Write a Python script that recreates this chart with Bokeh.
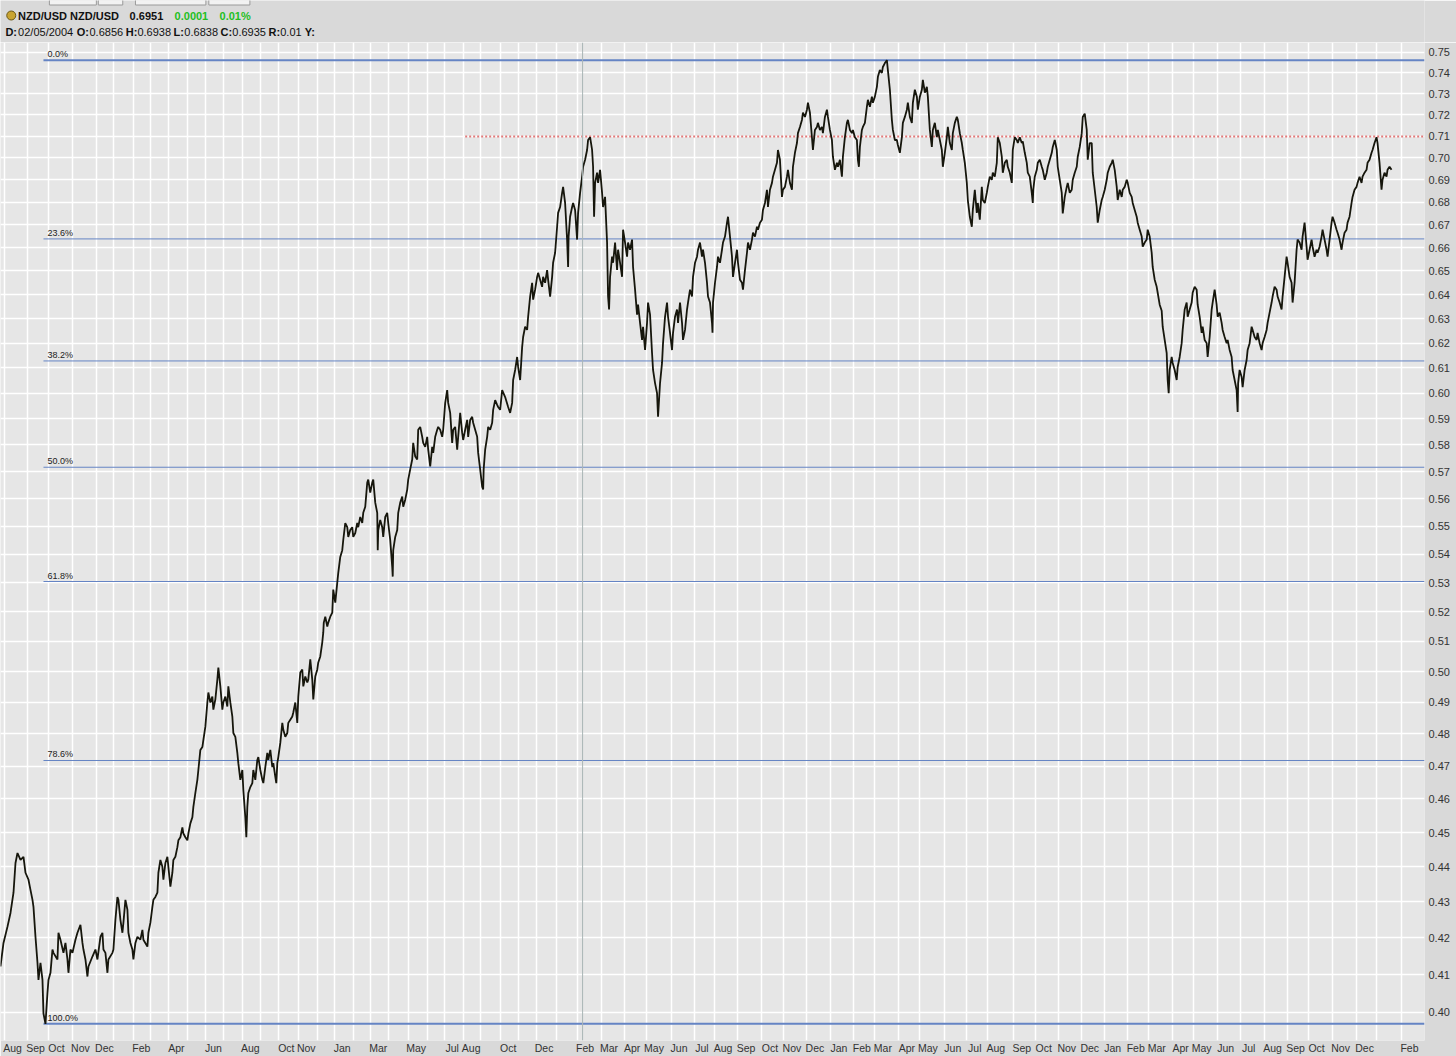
from bokeh.plotting import figure
from bokeh.layouts import column
from bokeh.models import Range1d, FixedTicker, PrintfTickFormatter, Span, Label, ColumnDataSource
from bokeh.embed import file_html
from bokeh.resources import INLINE

# ---------------- data ----------------
# (bar index, close)
pts_2000_2002 = [
    (0,0.4122),(3,0.4186),(7,0.4231),(10,0.4269),(13,0.4326),(15,0.4411),(17,0.444),(20,0.442),(23,0.4429),
    (25,0.4383),(28,0.4363),(30,0.4334),(32,0.4306),(33,0.4286),(35,0.4203),(37,0.4132),(38,0.4086),(40,0.4132),
    (42,0.4086),(43,0.3997),(45,0.397),(47,0.4051),(48,0.4086),(50,0.4105),(52,0.4168),(53,0.4159),(57,0.4141),
    (58,0.4214),(60,0.4195),(63,0.4159),(65,0.4186),(67,0.4141),(68,0.4105),(70,0.4168),(72,0.4159),(75,0.4195),
    (77,0.4214),(80,0.4236),(82,0.4186),(83,0.4168),(85,0.4141),(87,0.4095),(88,0.4122),(92,0.4149),(95,0.4168),
    (97,0.4141),(100,0.4203),(102,0.4214),(103,0.4168),(105,0.4159),(107,0.4105),(108,0.4141),(112,0.4159),
    (113,0.4168),(115,0.425),(117,0.4314),(118,0.4306),(120,0.425),(122,0.4214),(123,0.4242),(125,0.4306),
    (127,0.4278),(128,0.4214),(130,0.4186),(132,0.4168),(133,0.4141),(135,0.4186),(137,0.4203),(140,0.4195),
    (142,0.4222),(143,0.4195),(147,0.4176),(148,0.4214),(150,0.4242),(152,0.4286),(153,0.4306),(155,0.4314),
    (157,0.4326),(158,0.4383),(160,0.442),(162,0.44),(163,0.4363),(165,0.4411),(167,0.4429),(168,0.44),
    (170,0.4343),(172,0.4383),(173,0.442),(175,0.4429),(177,0.4457),(178,0.4477),(180,0.4486),(182,0.4515),
    (183,0.4497),(185,0.4486),(187,0.4477),(188,0.4497),(190,0.4527),(192,0.4545),(193,0.4576),(195,0.4618),
    (197,0.4658),(198,0.4688),(200,0.475),(202,0.4759),(203,0.4781),(205,0.4823),(207,0.49),(208,0.4932),
    (210,0.49),(212,0.4919),(213,0.4877),(215,0.491),(217,0.4974),(218,0.5013),(220,0.4952),(222,0.4877),
    (223,0.49),(225,0.4919),(227,0.4887),(228,0.4952),(230,0.49),(232,0.4855),(233,0.4803),(235,0.4791),
    (237,0.4741),(238,0.4709),(240,0.4658),(242,0.4688),(243,0.4627),(245,0.4545),(246,0.4486),(247,0.4576),
    (248,0.4618),(250,0.4636),(252,0.4648),(253,0.4688),(255,0.4658),(257,0.4719),(258,0.4728),
]
pts_2002_2003 = [
    (260,0.4688),(262,0.4658),(263,0.4648),(265,0.4697),(267,0.4741),(268,0.4719),(270,0.475),(272,0.4697),
    (273,0.4709),(275,0.4667),(276,0.4648),(277,0.4709),(278,0.4728),(280,0.4772),(282,0.4835),(283,0.4813),
    (285,0.4791),(287,0.4803),(288,0.4835),(290,0.4845),(292,0.4855),(293,0.4868),(295,0.49),(297,0.4835),
    (298,0.4919),(300,0.4997),(302,0.5007),(303,0.4952),(305,0.4984),(307,0.4965),(308,0.4974),(310,0.504),
    (312,0.4974),(313,0.491),(315,0.4984),(317,0.5007),(318,0.503),(320,0.505),(322,0.5097),(323,0.513),
    (323.5,0.5163),(325,0.5183),(327,0.515),(328,0.5163),(330,0.5183),(332,0.5197),(333,0.5276),(335,0.5231),
    (337,0.53),(338,0.5334),(340,0.539),(342,0.5414),(343,0.545),(345,0.5511),(347,0.5496),(348,0.5461),
    (350,0.5486),(352,0.5496),(353,0.5461),(355,0.5475),(357,0.5511),(358,0.5496),(360,0.5533),(362,0.5511),
    (363,0.5548),(365,0.557),(367,0.5659),(368,0.567),(370,0.5622),(372,0.5659),(373,0.567),(375,0.5585),
    (377,0.5548),(377.5,0.5414),(378,0.5485),(380,0.5522),(382,0.5496),(383,0.5461),(385,0.5533),(387,0.5548),
    (388,0.5511),(390,0.545),(392,0.5355),(392.5,0.5321),(393,0.5414),(395,0.5461),(397,0.5486),(398,0.5548),
    (400,0.5585),(402,0.5607),(403,0.557),(405,0.5596),(407,0.5633),(408,0.567),(410,0.5708),(412,0.5745),
    (413,0.5808),(415,0.5756),(417,0.5745),(418,0.5858),(420,0.5869),(422,0.5831),(423,0.5808),(425,0.5793),
    (427,0.5831),(428,0.5782),(430,0.5719),(432,0.5793),(433,0.577),(435,0.5831),(437,0.5858),(438,0.5869),
    (440,0.5858),(442,0.5831),(443,0.5858),(445,0.5962),(447,0.6012),(448,0.5962),(450,0.5923),(452,0.5808),
    (453,0.5858),(455,0.5869),(457,0.5782),(458,0.5831),(460,0.5923),(462,0.5846),(463,0.5819),(465,0.5858),
    (467,0.5896),(468,0.5831),(470,0.5896),(472,0.5908),(473,0.5885),(475,0.5858),(477,0.5831),(478,0.577),
    (480,0.5708),(482,0.5644),(483,0.5633),(483.5,0.5708),(485,0.5782),(487,0.5831),(488,0.5869),(490,0.5858),
    (492,0.5885),(493,0.5935),(495,0.5973),(497,0.5954),(498,0.5946),
]
pts_2003_2005 = [
    (500,0.5935),(502,0.6012),(505,0.5985),(508,0.5946),(510,0.5923),(512,0.5962),(513,0.6052),(515,0.6092),
    (517,0.6144),(518,0.6104),(520,0.6052),(522,0.6184),(523,0.6225),(525,0.6267),(527,0.6254),(528,0.6308),
    (530,0.6392),(532,0.645),(533,0.6379),(535,0.6421),(537,0.6475),(538,0.6492),(540,0.6463),(542,0.6433),
    (543,0.6475),(545,0.645),(547,0.6504),(548,0.6463),(550,0.6392),(552,0.6475),(553,0.6535),(555,0.6578),
    (557,0.6691),(558,0.6752),(560,0.6778),(562,0.6841),(563,0.6868),(565,0.6796),(567,0.6635),(568,0.6517),
    (568.5,0.6648),(570,0.6735),(572,0.6778),(573,0.6796),(575,0.6765),(577,0.6635),(578,0.6752),(580,0.6841),
    (582,0.6914),(583,0.6959),(585,0.6991),(587,0.7036),(588,0.7082),(590,0.7095),(592,0.7036),(593,0.6959),
    (594,0.6735),(595,0.6886),(597,0.6932),(598,0.6886),(600,0.6945),(602,0.6841),(603,0.6778),(605,0.6823),
    (607,0.6622),(608,0.6392),(609,0.6338),(610,0.6475),(612,0.6561),(613,0.6535),(615,0.6622),(617,0.6504),
    (618,0.6591),(620,0.6535),(622,0.6475),(623,0.6678),(625,0.6622),(627,0.6561),(628,0.6622),(630,0.6591),
    (632,0.6635),(633,0.6517),(635,0.6421),(637,0.6317),(638,0.6358),(640,0.6283),(642,0.6213),(643,0.6267),
    (645,0.6172),(647,0.6283),(648,0.6367),(650,0.6317),(652,0.616),(653,0.6092),(655,0.604),(657,0.60),
    (658,0.5908),(660,0.604),(662,0.612),(663,0.62),(665,0.6308),(667,0.6367),(668,0.6308),(670,0.6242),
    (672,0.6172),(673,0.6242),(675,0.6308),(677,0.6338),(678,0.6283),(680,0.6367),(682,0.6283),(683,0.6213),
    (685,0.6254),(687,0.6338),(688,0.6367),(690,0.6421),(692,0.6392),(693,0.6475),(695,0.6535),(697,0.6561),
    (698,0.6591),(700,0.6622),(702,0.6561),(703,0.6591),(705,0.6535),(707,0.645),(708,0.6392),(710,0.6367),
    (712,0.6283),(712.5,0.6242),(713,0.6367),(715,0.645),(717,0.6517),(718,0.6561),(720,0.6535),(722,0.6591),
    (723,0.6622),(725,0.6648),(727,0.6709),(728,0.6735),(730,0.6648),(732,0.6561),(733,0.6475),(735,0.6535),
    (737,0.6591),(738,0.6535),(740,0.6463),(742,0.645),(743,0.6421),(745,0.6504),(747,0.6578),(748,0.6622),
    (750,0.6591),(752,0.6635),(753,0.6665),(755,0.6648),(757,0.6691),(758,0.6678),(760,0.6709),(762,0.6722),
    (763,0.6765),(765,0.6796),(767,0.6855),(768,0.6778),(770,0.6855),(772,0.6886),(773,0.6914),(775,0.6945),
    (777,0.6977),(778,0.7036),(780,0.6991),(782,0.6823),(783,0.6855),(785,0.6868),(787,0.6914),(788,0.6945),
    (790,0.6886),(792,0.6855),(793,0.6959),(795,0.7023),(797,0.7068),(798,0.7114),(800,0.7143),(802,0.7176),
    (803,0.721),(805,0.719),(807,0.7224),(808,0.7257),(810,0.721),(812,0.7095),(813,0.7036),(815,0.7129),
    (817,0.7143),(818,0.7162),(820,0.7129),(822,0.7143),(823,0.7114),(825,0.719),(827,0.7224),(828,0.719),
    (830,0.7129),(832,0.7082),(833,0.7005),(835,0.6945),(837,0.6977),(838,0.6959),(840,0.6991),(842,0.6914),
    (843,0.7005),(845,0.7095),(847,0.7162),(848,0.7176),(850,0.7129),(852,0.7114),(853,0.7129),(855,0.7095),
    (857,0.7082),(858,0.6991),(859,0.6959),(860,0.705),(862,0.7129),(863,0.7143),(865,0.7162),(867,0.7238),
    (868,0.7271),(870,0.7238),(872,0.7286),(873,0.7257),(875,0.7286),(877,0.7333),(878,0.7381),(880,0.7414),
    (882,0.74),(883,0.7429),(885,0.7448),(887,0.7462),(888,0.7414),(890,0.7319),(892,0.7176),(893,0.7129),
    (895,0.7082),(897,0.7082),(898,0.7059),
]
pts_2005_2007 = [
    (900,0.7023),(902,0.7095),(903,0.7162),(905,0.719),(907,0.7224),(908,0.7257),(910,0.719),(912,0.7162),
    (913,0.7257),(915,0.7319),(917,0.7286),(918,0.7224),(920,0.7286),(922,0.7319),(923,0.7367),(925,0.7305),
    (927,0.7333),(928,0.7286),(930,0.7129),(932,0.705),(933,0.7129),(935,0.7162),(937,0.7095),(938,0.7129),
    (940,0.7082),(942,0.7036),(943,0.6959),(945,0.7023),(947,0.7095),(948,0.7143),(950,0.7068),(952,0.7036),
    (953,0.7114),(955,0.7162),(957,0.719),(958,0.7176),(960,0.7114),(962,0.7068),(963,0.7036),(965,0.6977),
    (967,0.6886),(968,0.6809),(970,0.6735),(972,0.6691),(973,0.6765),(975,0.6855),(977,0.6752),(978,0.6796),
    (980,0.6722),(982,0.6868),(983,0.6809),(985,0.6796),(987,0.6841),(988,0.6868),(990,0.6914),(992,0.69),
    (993,0.6932),(995,0.6914),(997,0.6977),(998,0.7095),(1000,0.7068),(1002,0.7005),(1003,0.6932),(1005,0.6977),
    (1007,0.6991),(1008,0.6959),(1010,0.6932),(1012,0.6886),(1013,0.7036),(1015,0.7095),(1017,0.7082),
    (1018,0.7068),(1020,0.7095),(1022,0.7068),(1023,0.7075),(1025,0.7023),(1027,0.6977),(1028,0.6932),
    (1030,0.6914),(1032,0.6841),(1033,0.6796),(1033.5,0.6855),(1035,0.6914),(1037,0.6945),(1038,0.6977),
    (1040,0.6991),(1042,0.6959),(1043,0.6945),(1045,0.69),(1047,0.6932),(1048,0.6959),(1050,0.6991),
    (1052,0.7023),(1053,0.705),(1055,0.7082),(1057,0.7036),(1058,0.6959),(1060,0.69),(1062,0.6841),(1063,0.675),
    (1065,0.6823),(1067,0.6868),(1068,0.6886),(1070,0.6841),(1072,0.6855),(1073,0.69),(1075,0.6932),
    (1077,0.6959),(1078,0.7005),(1080,0.705),(1082,0.7114),(1083,0.719),(1085,0.7205),(1087,0.7129),
    (1088,0.6991),(1090,0.7068),(1092,0.7068),(1093,0.6932),(1095,0.6855),(1097,0.6778),(1098,0.6709),
    (1100,0.6765),(1102,0.6809),(1103,0.6823),(1105,0.6855),(1107,0.69),(1108,0.6932),(1110,0.6959),
    (1112,0.6977),(1113,0.6991),(1115,0.6945),(1117,0.6868),(1118,0.6809),(1120,0.6855),(1122,0.6823),
    (1123,0.6855),(1125,0.6868),(1127,0.69),(1128,0.6886),(1130,0.6841),(1132,0.6823),(1133,0.6796),
    (1135,0.6765),(1137,0.6735),(1138,0.6709),(1140,0.6678),(1142,0.6648),(1143,0.6604),(1145,0.6622),
    (1147,0.6635),(1148,0.6678),(1150,0.6648),(1152,0.6578),(1153,0.6517),(1155,0.6463),(1157,0.6433),
    (1158,0.6408),(1160,0.6358),(1162,0.6333),(1163,0.6267),(1165,0.6213),(1167,0.616),(1167.5,0.6104),
    (1168,0.6052),(1169,0.60),(1170,0.6092),(1172,0.6144),(1173,0.612),(1175,0.6092),(1177,0.6052),
    (1178,0.6104),(1180,0.6144),(1182,0.62),(1183,0.6254),(1185,0.6338),(1187,0.6367),(1188,0.6308),
    (1190,0.6338),(1192,0.6367),(1193,0.6408),(1195,0.6433),(1197,0.6421),(1198,0.6358),(1200,0.6308),
    (1202,0.6242),(1203,0.6267),(1205,0.6213),(1207,0.62),(1208,0.6144),(1210,0.6225),(1212,0.6338),
    (1213,0.6367),(1215,0.6421),(1217,0.6358),(1218,0.6308),(1220,0.6325),(1222,0.6283),(1223,0.6254),
    (1225,0.6225),(1227,0.62),(1228,0.6213),(1230,0.6172),(1232,0.6144),(1233,0.6092),(1235,0.6052),
    (1237,0.6012),(1238,0.5927),(1238.5,0.604),(1240,0.6092),(1242,0.6064),(1243,0.6024),(1245,0.6092),
    (1247,0.6132),(1248,0.6172),(1250,0.62),(1252,0.6267),(1253,0.6254),(1255,0.6225),(1257,0.6213),
    (1258,0.6242),(1260,0.62),(1262,0.6172),(1263,0.62),(1265,0.6225),(1267,0.6254),(1268,0.6283),
    (1270,0.6325),(1272,0.6367),(1273,0.6392),(1275,0.6433),(1277,0.6421),(1278,0.6392),(1280,0.6367),
    (1282,0.6338),(1283,0.6392),(1285,0.6475),(1287,0.6561),(1288,0.6535),(1290,0.6475),(1292,0.645),
    (1293,0.6367),(1295,0.645),(1297,0.6591),(1298,0.6635),(1300,0.6622),(1302,0.6591),(1303,0.6648),
    (1305,0.6709),(1307,0.6604),(1308,0.6548),(1310,0.6591),(1312,0.6635),(1313,0.6604),(1315,0.6561),
    (1317,0.6591),(1318,0.6578),(1320,0.6604),(1322,0.6648),(1323,0.6678),(1325,0.6635),(1327,0.6591),
    (1328,0.6561),(1330,0.6635),(1332,0.6709),(1333,0.6735),(1335,0.6709),(1337,0.6678),(1338,0.6665),
    (1340,0.6635),(1342,0.6591),(1343,0.6622),(1345,0.6665),(1347,0.6678),(1348,0.6709),(1350,0.6735),
    (1352,0.6796),(1353,0.6823),(1355,0.6855),(1357,0.6868),(1358,0.6886),(1360,0.6914),(1362,0.6886),
    (1363,0.6914),(1365,0.6932),(1367,0.6945),(1368,0.6977),(1370,0.6991),(1372,0.7023),(1373,0.7036),
    (1375,0.7068),(1377,0.7095),(1378,0.7068),(1380,0.6977),(1382,0.6855),(1383,0.69),(1385,0.6932),
    (1387,0.6914),(1388,0.6945),(1390,0.6959),(1392,0.6945),
]

# month grid (bar index) and labels
month_grid = [4,27,48,72,96,113,133,150,168,187,205,223,242,260,278,298,317,334,353,370,388,408,427,444,463,
              480,500,518,536,556,577,601,624,646,671,694,715,738,762,784,807,831,854,875,899,920,945,967,988,
              1014,1036,1059,1082,1105,1128,1149,1173,1194,1218,1241,1265,1288,1309,1333,1357,1377,1402]
month_lbl = ["Aug","Sep","Oct","Nov","Dec","","Feb","","Apr","","Jun","","Aug","","Oct","Nov","","Jan","","Mar",
             "","May","","Jul","Aug","","Oct","","Dec","","Feb","Mar","Apr","May","Jun","Jul","Aug","Sep","Oct",
             "Nov","Dec","Jan","Feb","Mar","Apr","May","Jun","Jul","Aug","Sep","Oct","Nov","Dec","Jan","Feb",
             "Mar","Apr","May","Jun","Jul","Aug","Sep","Oct","Nov","Dec","","Feb"]

price_ticks = [round(0.40 + 0.01 * i, 2) for i in range(36)]

fib_high = 0.7462
fib_low = 0.3970
fib_ratios = [0.0, 0.236, 0.382, 0.5, 0.618, 0.786, 1.0]
fib_names = ["0.0%", "23.6%", "38.2%", "50.0%", "61.8%", "78.6%", "100.0%"]
fib_start_bar = 43

resistance_level = 0.7098
resistance_start_bar = 465
cursor_bar = 582.5

header_title = "NZD/USD NZD/USD"
header_last = "0.6951"
header_change = "0.0001"
header_pct = "0.01%"
header_fields = [("D:", "02/05/2004"), ("O:", "0.6856"), ("H:", "0.6938"), ("L:", "0.6838"),
                 ("C:", "0.6935"), ("R:", "0.01"), ("Y:", "")]

FONT = "Liberation Sans"
BAND = "#d9d9d9"

# ---------------- header strip ----------------
TOTAL_W = 1456
HEAD_H = 42
h = figure(width=TOTAL_W, height=HEAD_H, x_range=Range1d(0, TOTAL_W), y_range=Range1d(0, HEAD_H),
           output_backend="svg", toolbar_location=None, min_border=0,
           background_fill_color=BAND, border_fill_color=BAND, outline_line_color=None)
h.axis.visible = False
h.grid.visible = False
# bottoms of the toolbar buttons peeking in at the top
h.quad(left=[50, 100, 138, 213], right=[98, 125, 210, 255], bottom=[37.5, 37.5, 37.5, 37.5],
       top=[44, 44, 44, 44], fill_color="#f2f2f2", line_color="#9a9a9a", line_width=1)
h.scatter(x=[11], y=[27], size=9, fill_color="#c9a431", line_color="#6a5716", line_width=1)

def hl(x, y, text, bold=False, color="#111111", size="11px"):
    h.add_layout(Label(x=x, y=y, text=text, text_font=FONT, text_font_size=size,
                       text_font_style="bold" if bold else "normal",
                       text_color=color, text_baseline="middle", text_align="left"))

Y1, Y2 = 27, 11
hl(18, Y1, header_title, bold=True)
hl(132, Y1, header_last, bold=True)
hl(178, Y1, header_change, bold=True, color="#1fbf1f")
hl(224, Y1, header_pct, bold=True, color="#1fbf1f")
field_x = [(5, 18), (78, 91), (128, 140), (177, 188), (225, 237), (274, 286), (311, 324)]
for (k, v), (xk, xv) in zip(header_fields, field_x):
    hl(xk, Y2, k, bold=True)
    if v:
        hl(xv, Y2, v)

# ---------------- main chart ----------------
all_pts = pts_2000_2002 + pts_2002_2003 + pts_2003_2005 + pts_2005_2007
bars = [b for b, _ in all_pts]
closes = [c for _, c in all_pts]

FW, FH = 1424, 998
X_END = 1425
p = figure(frame_width=FW, frame_height=FH, y_axis_type="log",
           x_range=Range1d(0, X_END), y_range=Range1d(0.3927, 0.7549),
           output_backend="svg", toolbar_location=None, y_axis_location="right",
           min_border_left=0, min_border_right=TOTAL_W - FW, min_border_top=0, min_border_bottom=15,
           background_fill_color="#e6e6e6", border_fill_color=BAND, outline_line_color=None)

# grids
p.xgrid.ticker = FixedTicker(ticks=month_grid)
p.xgrid.grid_line_color = "white"
p.xgrid.grid_line_width = 1.5
p.ygrid.grid_line_color = "white"
p.ygrid.grid_line_width = 1.5

# x axis: labels sit just right of their month gridline
lab_ticks = [g + 8 for g, l in zip(month_grid, month_lbl) if l]
lab_text = [l for l in month_lbl if l]
p.xaxis.ticker = FixedTicker(ticks=lab_ticks)
p.xaxis.major_label_overrides = {t: l for t, l in zip(lab_ticks, lab_text)}
p.xaxis.axis_line_color = None
p.xaxis.major_tick_line_color = None
p.xaxis.minor_tick_line_color = None
p.xaxis.major_tick_out = 0
p.xaxis.major_tick_in = 0
p.xaxis.minor_tick_out = 0
p.xaxis.major_label_standoff = 1
p.xaxis.major_label_text_font = FONT
p.xaxis.major_label_text_font_size = "10.5px"
p.xaxis.major_label_text_color = "#333333"

# y axis (right)
p.yaxis.ticker = FixedTicker(ticks=price_ticks)
p.yaxis.formatter = PrintfTickFormatter(format="%.2f")
p.yaxis.axis_line_color = None
p.yaxis.major_tick_line_color = None
p.yaxis.minor_tick_line_color = None
p.yaxis.major_tick_out = 0
p.yaxis.major_tick_in = 0
p.yaxis.minor_tick_out = 0
p.yaxis.major_label_standoff = 4
p.yaxis.major_label_text_font = FONT
p.yaxis.major_label_text_font_size = "11px"
p.yaxis.major_label_text_color = "#333333"

# cursor line
p.add_layout(Span(location=cursor_bar, dimension="height", line_color="#aab6b6", line_width=1))

# fibonacci levels
fib_levels = [fib_high - r * (fib_high - fib_low) for r in fib_ratios]
fib_src = ColumnDataSource(dict(
    x0=[fib_start_bar] * len(fib_levels), x1=[X_END] * len(fib_levels), y=fib_levels,
    w=[2 if r in (0.0, 1.0) else 1 for r in fib_ratios]))
p.segment(x0="x0", y0="y", x1="x1", y1="y", line_width="w", line_color="#6584c4", source=fib_src)
for lvl, name in zip(fib_levels, fib_names):
    p.add_layout(Label(x=fib_start_bar + 4, y=lvl, text=name, text_font=FONT, text_font_size="9px",
                       text_color="#222222", text_baseline="bottom", text_align="left", y_offset=1))

# resistance dotted line
p.segment(x0=[resistance_start_bar], y0=[resistance_level], x1=[X_END], y1=[resistance_level],
          line_color="#e07a7a", line_width=2, line_dash="2 2")

# price series
p.line(bars, closes, line_color="#16160c", line_width=1.8)

layout = column(h, p, spacing=0)
open("out.html", "w").write(file_html(layout, INLINE))
